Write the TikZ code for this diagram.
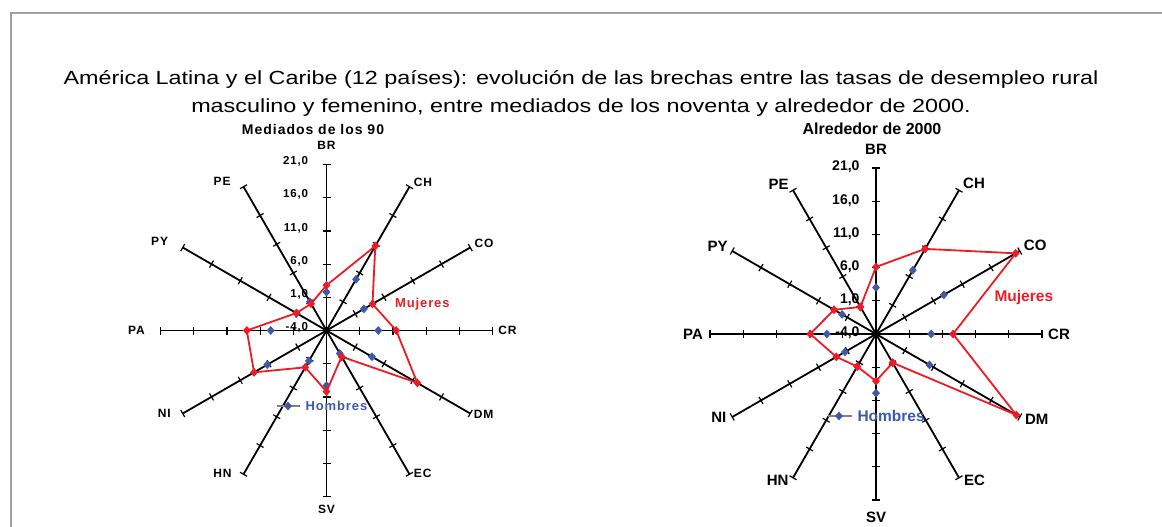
\documentclass[tikz,border=0pt]{standalone}
\usepackage{fontspec}
\setmainfont{Liberation Sans}
\newfontfamily\spacedfont[LetterSpace=7]{Liberation Sans}
\usetikzlibrary{shapes.geometric}
\definecolor{mujred}{RGB}{237,28,36}
\definecolor{homblue}{RGB}{62,88,170}
\definecolor{framegray}{RGB}{160,160,160}
\tikzset{
    axisline/.style={line width=1.8pt, black},
    tickmark/.style={line width=1.2pt, black},
    mujline/.style={line width=1.8pt, mujred, line join=round},
    mujmark/.style={diamond, fill=mujred, inner sep=0pt, minimum width=8pt, minimum height=9pt},
    hommark/.style={diamond, fill=homblue, inner sep=0pt, minimum width=8pt, minimum height=9pt},
    legline/.style={line width=1.8pt, gray},
    leftfont/.style={font=\spacedfont\bfseries\fontsize{#1}{#1}\selectfont},
    rightfont/.style={font=\bfseries\fontsize{#1}{#1}\selectfont},
}

\begin{document}
\begin{tikzpicture}[x=1pt,y=-1pt]
    \useasboundingbox (0,0) rectangle (1162,527);
    \draw[framegray, line width=2.5pt] (11,527) -- (11,13) -- (1162,13);
    \node[align=center, font=\fontsize{19}{28}\selectfont] (title) at (581,93)
        {\scalebox{1.23}[1]{América Latina y el Caribe (12 países): evolución de las brechas entre las tasas de desempleo rural}\\
         \scalebox{1.23}[1]{masculino y femenino, entre mediados de los noventa y alrededor de 2000.}};

    % Mediados de los 90
    \begin{scope}[shift={(326.5,330.5)}, yscale=-1]
        \node[leftfont=14] (ltitle) at (-13.5,201.5) {Mediados de los 90};
        \foreach \a in {0,30,...,330} {
            \draw[axisline] (0,0) -- (\a:166);
            \foreach \r in {1,...,5}
                \draw[tickmark] (\a:{33.2*\r}) ++(\a+90:4) -- ++(\a-90:8);
        }
        \foreach \a/\lab/\d in {90/BR/185, 57/CH/177, 29/CO/180, 0/CR/181, -28/DM/178, -56/EC/172,
                                -90/SV/179, -126/HN/177, -153/NI/182, 180/PA/190, 152/PY/189, 125/PE/182}
            \node[leftfont=12] (l\lab) at (\a:\d) {\lab};
        \foreach \k in {0,...,5} {
            \pgfmathtruncatemacro\v{5*\k-4}
            \node[leftfont=11.5, anchor=east] (ltick\k) at (-15,{33.2*\k+3}) {\v,0};
        }
        % hombres
        \foreach \a/\v [count=\i] in {90/1.8, 60/4.9, 30/2.5, 0/3.8, -30/3.9, -60/0.0,
                                     -90/4.3, -120/1.3, -150/6.3, 180/4.4, 150/1.2, 120/1.0}
            \node[hommark] (lh\i) at (\a:{(\v+4)*6.64}) {};
        % mujeres
        \foreach \a/\v [count=\i] in {90/2.8, 60/10.7, 30/4.0, 0/6.5, -30/11.8, -60/0.55,
                                     -90/5.2, -120/2.4, -150/8.6, 180/8.0, 150/1.25, 120/0.65}
            \coordinate (lm\i) at (\a:{(\v+4)*6.64});
        \draw[mujline] (lm1) -- (lm2) -- (lm3) -- (lm4) -- (lm5) -- (lm6) -- (lm7) -- (lm8)
            -- (lm9) -- (lm10) -- (lm11) -- (lm12) -- cycle;
        \foreach \i in {1,...,12}
            \node[mujmark] at (lm\i) {};
        \coordinate (lla) at (-50,-75.5);
        \coordinate (llb) at (-26.5,-75.5);
        \draw[legline] (lla) -- (llb);
        \node[hommark] (llm) at (-38.5,-75.5) {};
        \node[leftfont=13, text=homblue, anchor=west] (lhom) at (-24.5,-75.5) {Hombres};
        \node[leftfont=13, text=mujred, anchor=west] (lmuj) at (65,26.5) {Mujeres};
    \end{scope}

    % Alrededor de 2000
    \begin{scope}[shift={(876,334)}, yscale=-1]
        \node[rightfont=16] (rtitle) at (-4,205) {Alrededor de 2000};
        \foreach \a in {0,30,...,330} {
            \draw[axisline] (0,0) -- (\a:166);
            \foreach \r in {1,...,5}
                \draw[tickmark] (\a:{33.2*\r}) ++(\a+90:4) -- ++(\a-90:8);
        }
        \foreach \a/\lab/\d in {90/BR/185, 57/CH/180, 29/CO/182, 0/CR/183, -28/DM/182, -56/EC/176,
                                -90/SV/183, -124/HN/176, -152/NI/178, 180/PA/183, 151/PY/181, 123/PE/179}
            \node[rightfont=15] (r\lab) at (\a:\d) {\lab};
        \foreach \k in {0,...,5} {
            \pgfmathtruncatemacro\v{5*\k-4}
            \node[rightfont=14, anchor=east] (rtick\k) at (-13,{33.2*\k+1}) {\v,0};
        }
        % hombres
        \foreach \a/\v [count=\i] in {90/3.0, 60/7.1, 30/7.8, 0/4.3, -30/5.3, -60/1.0,
                                     -90/4.9, -120/1.65, -150/1.4, 180/3.4, 150/1.9, 120/0.7}
            \node[hommark] (rh\i) at (\a:{(\v+4)*6.64}) {};
        % mujeres
        \foreach \a/\v [count=\i] in {90/6.1, 60/10.8, 30/20.3, 0/7.6, -30/20.4, -60/1.0,
                                     -90/3.1, -120/1.65, -150/2.9, 180/5.9, 150/3.3, 120/0.7}
            \coordinate (rm\i) at (\a:{(\v+4)*6.64});
        \draw[mujline] (rm1) -- (rm2) -- (rm3) -- (rm4) -- (rm5) -- (rm6) -- (rm7) -- (rm8)
            -- (rm9) -- (rm10) -- (rm11) -- (rm12) -- cycle;
        \foreach \i in {1,...,12}
            \node[mujmark] at (rm\i) {};
        \coordinate (rla) at (-48,-82);
        \coordinate (rlb) at (-24,-82);
        \draw[legline] (rla) -- (rlb);
        \node[hommark] (rlm) at (-37,-82) {};
        \node[rightfont=15.5, text=homblue, anchor=west] (rhom) at (-22,-82) {Hombres};
        \node[rightfont=15.5, text=mujred, anchor=west] (rmuj) at (115,37) {Mujeres};
    \end{scope}
\end{tikzpicture}
\end{document}
